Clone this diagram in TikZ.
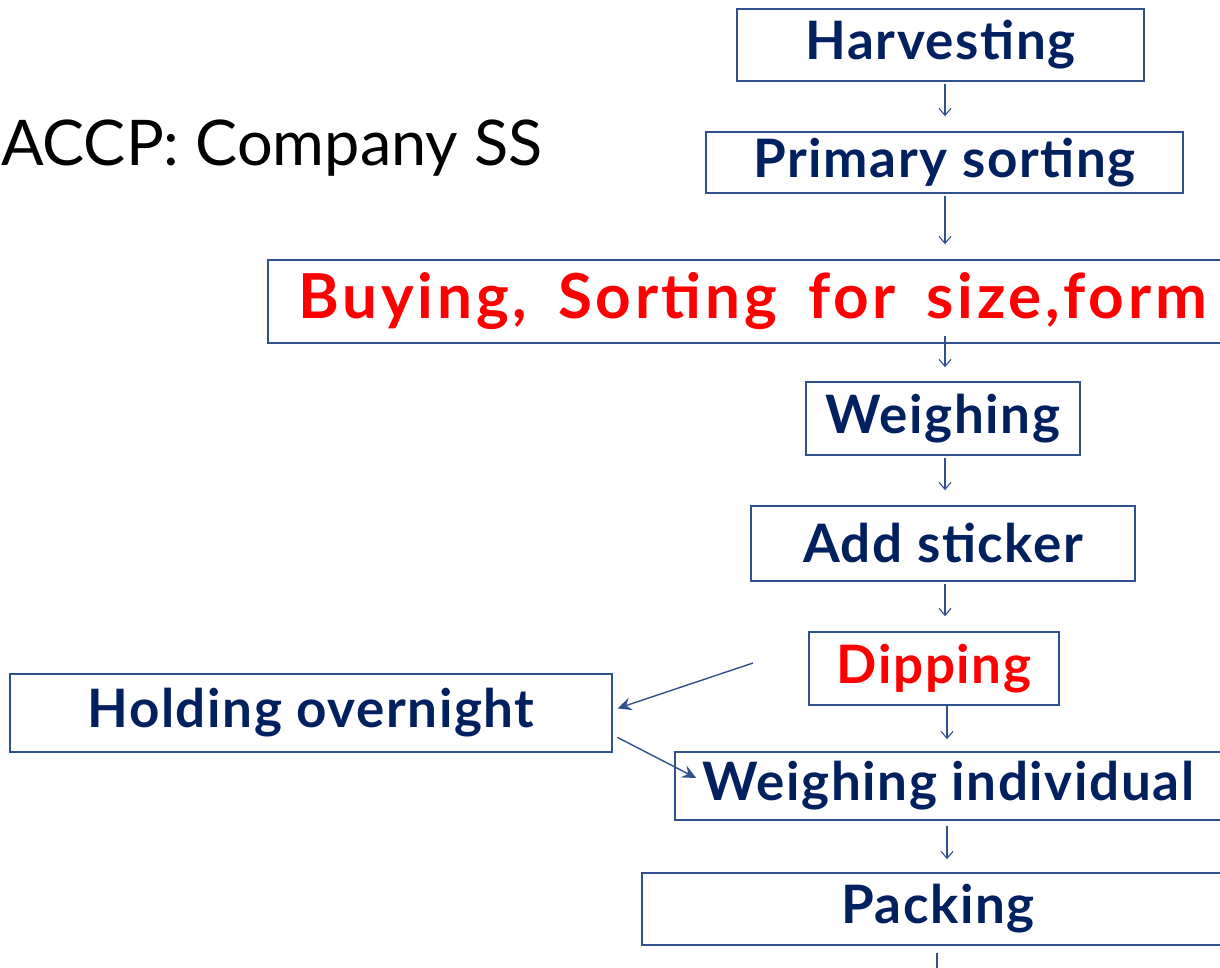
\documentclass[tikz,border=0pt]{standalone}
\usepackage{fontspec}
\setmainfont{Lato}
\usetikzlibrary{arrows.meta}
\definecolor{stepblue}{HTML}{002060}
\definecolor{lineblue}{HTML}{2F528F}
\newcommand{\buyfont}{\fontsize{62}{66}\selectfont\bfseries\addfontfeature{LetterSpace=6}\spaceskip=0.5em\relax}
\tikzset{
  box/.style={draw=lineblue, line width=1.6pt, inner sep=0pt, text=stepblue,
    font=\fontsize{53}{60}\selectfont\bfseries\addfontfeature{LetterSpace=3}},
  redtext/.style={text=red},
  flow/.style={draw=lineblue, line width=1.1pt, -{Straight Barb[length=7pt,width=12pt]},
    shorten <=2pt, shorten >=15pt},
  side/.style={draw=lineblue, line width=1.4pt, -{Stealth[length=14pt,width=13pt,inset=5pt]}}
}
\begin{document}
\begin{tikzpicture}[x=1pt,y=-1pt]
\useasboundingbox[fill=white] (0,0) rectangle (1220,968);
\clip (0,0) rectangle (1220,968);
\node[anchor=west, inner sep=0pt, font=\fontsize{63}{70}\selectfont] (title) at (1,148) {ACCP: Company SS};
\node[box, minimum width=407pt, minimum height=72pt] (harv) at (940.5,45) {Harvesting};
\node[box, minimum width=477pt, minimum height=61pt] (prim) at (944.5,162.5) {Primary sorting};
\node[box, redtext, anchor=west, inner xsep=31pt, minimum height=83pt, font=\buyfont] (buy) at (267,301.5) {Buying, Sorting for size,form};
\node[box, minimum width=274pt, minimum height=73pt] (weigh) at (943,418.5) {Weighing};
\node[box, minimum width=384pt, minimum height=75pt] (stick) at (943,543.5) {Add sticker};
\node[box, redtext, minimum width=250pt, minimum height=73pt] (dip) at (934,668.5) {Dipping};
\node[box, minimum width=602pt, minimum height=78pt] (hold) at (311,713) {Holding overnight};
\node[box, minimum width=547pt, minimum height=68pt] (indiv) at (948.5,786) {Weighing individual};
\node[box, minimum width=592pt, minimum height=72pt] (pack) at (938,909) {Packing};
\coordinate (axis) at (945,0);
\coordinate (axisb) at (947,0);
\coordinate (dipleft) at (753,663);
\coordinate (packend) at (937,975);
\draw[flow] (harv.south -| axis) -- (prim.north -| axis);
\draw[flow] (prim.south -| axis) -- (buy.north -| axis);
\draw[flow, shorten <=-8pt, shorten >=14pt] (buy.south -| axis) -- (weigh.north -| axis);
\draw[flow] (weigh.south -| axis) -- (stick.north -| axis);
\draw[flow] (stick.south -| axis) -- (dip.north -| axis);
\draw[flow, shorten <=0pt, shorten >=12pt] (dip.south -| axisb) -- (indiv.north -| axisb);
\draw[flow, shorten <=5pt, shorten >=13pt] (indiv.south -| axisb) -- (pack.north -| axisb);
\draw[draw=lineblue, line width=1.1pt, shorten <=7pt] (pack.south -| packend) -- (packend);
\draw[side, shorten >=5pt] (dipleft) -- ([yshift=3pt]hold.east);
\draw[side, shorten <=5pt] ([yshift=-22pt]hold.east) -- ([xshift=22pt,yshift=8pt]indiv.west);
\end{tikzpicture}
\end{document}
